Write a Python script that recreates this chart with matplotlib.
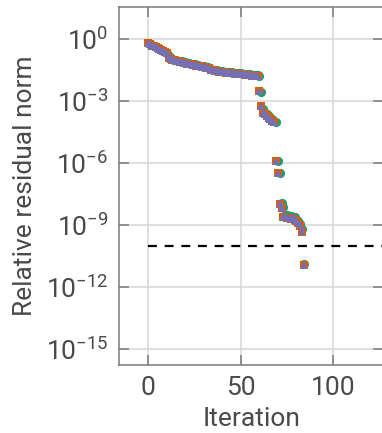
import matplotlib
matplotlib.use('Agg')
import matplotlib.pyplot as plt
import numpy as np
from matplotlib.ticker import FixedLocator, LogFormatterSciNotation, NullLocator

plt.rcParams['font.family'] = ['Roboto', 'DejaVu Sans']
plt.rcParams['mathtext.fontset'] = 'custom'
plt.rcParams['mathtext.rm'] = 'Roboto'
plt.rcParams['mathtext.it'] = 'Roboto:italic'
plt.rcParams['mathtext.bf'] = 'Roboto:bold'

# log10 of the relative residual norm, one value per iteration
log_res_green = [
    -0.20, -0.25, -0.30, -0.34, -0.39, -0.43, -0.48, -0.53, -0.58, -0.63,
    -0.68, -0.86, -0.92, -0.97, -1.01, -1.04, -1.06, -1.08, -1.10, -1.12,
    -1.14, -1.16, -1.18, -1.20, -1.22, -1.24, -1.26, -1.28, -1.30, -1.32,
    -1.34, -1.36, -1.38, -1.40, -1.47, -1.49, -1.51, -1.53, -1.55, -1.57,
    -1.58, -1.59, -1.60, -1.61, -1.62, -1.63, -1.64, -1.65, -1.66, -1.67,
    -1.68, -1.69, -1.70, -1.71, -1.72, -1.73, -1.74, -1.75, -1.76, -1.77,
    -1.78, -2.58, -3.40, -3.58, -3.66, -3.74, -3.82, -3.89, -3.96, -4.02,
    -5.91, -6.48, -7.93, -8.12, -8.52, -8.54, -8.56, -8.58, -8.60, -8.64,
    -8.70, -8.80, -8.95, -9.20, -10.90,
]
log_res_orange = [
    -0.23, -0.28, -0.33, -0.37, -0.42, -0.46, -0.51, -0.56, -0.61, -0.66,
    -0.71, -0.91, -0.96, -1.01, -1.05, -1.08, -1.10, -1.12, -1.14, -1.16,
    -1.18, -1.20, -1.22, -1.24, -1.26, -1.28, -1.30, -1.32, -1.34, -1.36,
    -1.38, -1.40, -1.42, -1.44, -1.51, -1.53, -1.55, -1.57, -1.59, -1.61,
    -1.62, -1.63, -1.64, -1.65, -1.66, -1.67, -1.68, -1.69, -1.70, -1.71,
    -1.72, -1.73, -1.74, -1.75, -1.76, -1.77, -1.78, -1.79, -1.80, -1.81,
    -2.52, -3.27, -3.58, -3.66, -3.74, -3.82, -3.90, -3.97, -4.03, -5.92,
    -6.49, -7.97, -8.18, -8.62, -8.64, -8.66, -8.68, -8.70, -8.72, -8.75,
    -8.80, -8.90, -9.05, -9.33, -10.95,
]
log_res_purple = [
    -0.22, -0.27, -0.32, -0.36, -0.41, -0.45, -0.50, -0.55, -0.60, -0.65,
    -0.70, -0.90, -0.95, -1.00, -1.04, -1.07, -1.09, -1.11, -1.13, -1.15,
    -1.17, -1.19, -1.21, -1.23, -1.25, -1.27, -1.29, -1.31, -1.33, -1.35,
    -1.37, -1.39, -1.41, -1.43, -1.50, -1.52, -1.54, -1.56, -1.58, -1.60,
    -1.61, -1.62, -1.63, -1.64, -1.65, -1.66, -1.67, -1.68, -1.69, -1.70,
    -1.71, -1.72, -1.73, -1.74, -1.75, -1.76, -1.77, -1.78, -1.79, -1.80,
    -2.51, -3.26, -3.57, -3.65, -3.73, -3.81, -3.89, -3.96, -4.02, -5.91,
    -6.48, -7.96, -8.17, -8.60, -8.62, -8.64, -8.66, -8.68, -8.70, -8.72,
    -8.78, -8.88, -9.02, -9.30, -10.94,
]
tolerance = 1e-10
y_ticks = [1e0, 1e-3, 1e-6, 1e-9, 1e-12, 1e-15]
x_ticks = [0, 50, 100]

colors = ['#1b9e77', '#d95f02', '#7570b3']
text_color = '#4a4a4a'

fig = plt.figure(figsize=(3.82, 4.33), dpi=100)
ax = fig.add_axes([0.3123, 0.157, 0.6907, 0.8258])

series = [(log_res_green, 'o', 6.6), (log_res_orange, 's', 6.0), (log_res_purple, '^', 6.0)]
for (vals, mk, ms), c in zip(series, colors):
    it = np.arange(len(vals))
    ax.plot(it, 10.0 ** np.array(vals), linestyle='none', marker=mk, markersize=ms,
            markeredgewidth=0, color=c, zorder=3)

ax.plot([0, 130], [tolerance, tolerance], color='black', linestyle=(0, (4, 3.5)),
        linewidth=1.6, zorder=2)

ax.set_yscale('log')
ax.set_xlim(-15.7, 126.9)
ax.set_ylim(10 ** -15.77, 10 ** 1.51)
ax.yaxis.set_major_locator(FixedLocator(y_ticks))
ax.yaxis.set_major_formatter(LogFormatterSciNotation())
ax.yaxis.set_minor_locator(NullLocator())
ax.set_xticks(x_ticks)

ax.grid(True, color='#d9d9d9', linewidth=1.2, zorder=0)
ax.set_axisbelow(True)
for s in ax.spines.values():
    s.set_color('#7a7a7a')
    s.set_linewidth(1.1)
ax.tick_params(which='both', direction='in', top=True, right=True, length=7.5,
               width=1.1, color='#7a7a7a', labelsize=19, labelcolor=text_color, pad=8)

ax.set_xlabel('Iteration', fontsize=19, color=text_color, labelpad=5)
ax.set_ylabel('Relative residual norm', fontsize=19, color=text_color, labelpad=6)

fig.savefig('out.png', dpi=100)
